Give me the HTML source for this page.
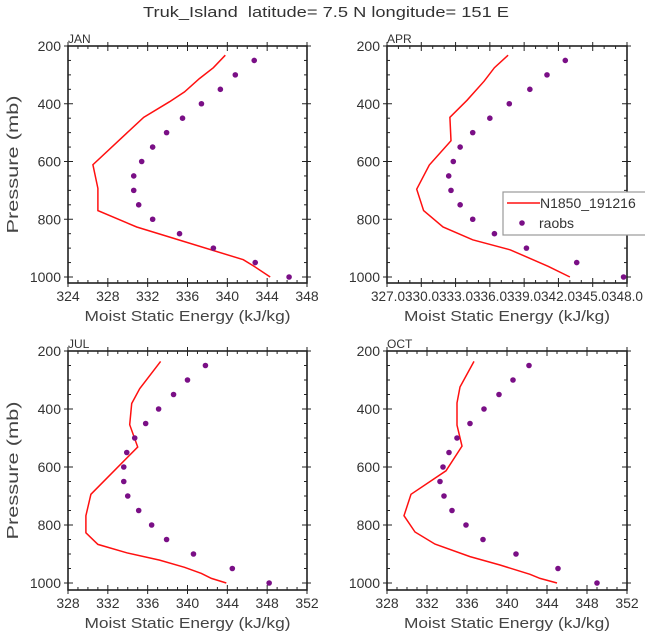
<!DOCTYPE html>
<html><head><meta charset="utf-8"><style>
html,body{margin:0;padding:0;background:#fff;}
svg{display:block;font-family:"Liberation Sans",sans-serif;}
</style></head><body>
<svg id="fig" width="645" height="640" viewBox="0 0 645 640" xmlns="http://www.w3.org/2000/svg">
<text x="326" y="17" font-size="15" text-anchor="middle" fill="#333" textLength="366" lengthAdjust="spacingAndGlyphs" xml:space="preserve">Truk_Island  latitude= 7.5 N longitude= 151 E</text>
</svg>
<script>
// ---- data ----
const obsLevels = [250,300,350,400,450,500,550,600,650,700,750,800,850,900,950,1000];
const janModelP = [232,275,313,359,393,447,611,693,770,827,865,940,961,1000];
const janModelV = [339.8,338.6,337.2,335.7,334.2,331.6,326.5,327.0,327.0,330.9,334.5,341.6,342.6,344.3];
const janObs = [342.7,340.8,339.3,337.4,335.5,333.9,332.5,331.4,330.6,330.6,331.1,332.5,335.2,338.6,342.8,346.2];
const aprModelP = [232,275,322,388,447,528,612,696,770,827,871,906,963,1000];
const aprModelV = [337.6,336.4,335.5,334.0,332.5,332.6,330.7,329.6,330.2,331.9,334.5,337.8,341.1,343.0];
const aprObs = [342.6,341.0,339.5,337.7,336.0,334.5,333.4,332.8,332.4,332.6,333.4,334.5,336.4,339.2,343.6,347.7];
const julModelP = [236,330,381,454,531,694,768,827,867,896,921,946,967,984,1000];
const julModelV = [337.3,335.2,334.4,334.2,335.0,330.3,329.8,329.8,331.0,333.9,337.2,339.7,341.4,342.4,343.9];
const julObs = [341.8,340.0,338.6,337.1,335.8,334.7,333.9,333.6,333.6,334.0,335.1,336.4,337.9,340.6,344.5,348.2];
const octModelP = [236,324,379,456,528,613,694,768,824,866,909,938,970,984,1000];
const octModelV = [336.7,335.3,335.0,335.0,335.5,333.9,330.4,329.7,330.8,332.8,336.3,339.3,342.3,343.3,345.0];
const octObs = [342.2,340.6,339.2,337.7,336.3,335.0,334.2,333.6,333.3,333.7,334.5,335.9,337.6,340.9,345.1,349.0];
const yTicks = [200,400,600,800,1000];
const janXTicks = [324,328,332,336,340,344,348];
const aprXTicks = [327,330,333,336,339,342,345,348];
const jxTicks = [328,332,336,340,344,348,352];

const NS="http://www.w3.org/2000/svg";
const svg=document.getElementById('fig');
function mk(tag,attrs,parent){const e=document.createElementNS(NS,tag);for(const k in attrs)e.setAttribute(k,attrs[k]);(parent||svg).appendChild(e);return e;}

function panel(cfg){
  const g=mk('g',{});
  
  
  const L=cfg.L,R=cfg.R,T=cfg.T,y1000=cfg.y1000,B=cfg.B;
  const xS=v=>L+(v-cfg.xmin)/(cfg.xmax-cfg.xmin)*(R-L);
  const yS=p=>T+(p-200)/800*(y1000-T);
  const tk=mk('g',{stroke:'#222','stroke-width':1},g);
  
  
  for(let p=200;p<=1000;p+=50){
    const y=yS(p), maj=(p%200===0);
    const a=maj?5:3;
    mk('line',{x1:L-(maj?4:0),x2:L+a,y1:y,y2:y},tk);
    mk('line',{x1:R-a,x2:R+(maj?4:0),y1:y,y2:y},tk);
  }
  for(let v=cfg.xmin;v<=cfg.xmax+0.001;v+=1){
    const x=xS(v), maj=((v-cfg.xmin)%cfg.xstep===0);
    const a=maj?5:3;
    mk('line',{x1:x,x2:x,y1:B+(maj?4:0),y2:B-a},tk);
    mk('line',{x1:x,x2:x,y1:T-(maj?4:0),y2:T+a},tk);
  }
  const fr=mk('rect',{x:L,y:T,width:R-L,height:B-T,fill:'none',stroke:'#222','stroke-width':1.6},g);
  
  
  yTicks.forEach(p=>{
    const t=mk('text',{x:L-7,y:yS(p)+5,'font-size':14,'text-anchor':'end',fill:'#333'},g);
    t.textContent=p;
    
    
  });
  if(cfg.apr){
    const t=mk('text',{x:xS(cfg.xTicks[0])-16,y:B+18,'font-size':14,fill:'#333',textLength:272,lengthAdjust:'spacingAndGlyphs'},g);
    t.textContent='327.0330.0333.0336.0339.0342.0345.0348.0';
    
    
  } else {
    cfg.xTicks.forEach(v=>{
      const t=mk('text',{x:xS(v),y:B+18,'font-size':14,'text-anchor':'middle',fill:'#333'},g);
      t.textContent=v;
      
      
    });
  }
  const xt=mk('text',{x:(L+R)/2,y:B+38,'font-size':15,'text-anchor':'middle',fill:'#444',textLength:206,lengthAdjust:'spacingAndGlyphs'},g);
  xt.textContent='Moist Static Energy (kJ/kg)';
  
  
  if(cfg.ytitle){
    const cy=(T+B)/2;
    const yt=mk('text',{x:18,y:cy,'font-size':16,'text-anchor':'middle',fill:'#444',transform:`rotate(-90 18 ${cy})`,textLength:138,lengthAdjust:'spacingAndGlyphs'},g);
    yt.textContent='Pressure (mb)';
    
    
  }
  const lab=mk('text',{x:L,y:T-3,'font-size':12,fill:'#333'},g);
  lab.textContent=cfg.label;
  
  
  const pts=cfg.mp.map((p,i)=>xS(cfg.mv[i]).toFixed(1)+','+yS(p).toFixed(1)).join(' ');
  const pl=mk('polyline',{points:pts,fill:'none',stroke:'#ff1010','stroke-width':1.5},g);
  
  
  obsLevels.forEach((p,i)=>{
    const c=mk('circle',{cx:xS(cfg.obs[i]),cy:yS(p),r:2.8,fill:'#7a0f86'},g);
    
    
  });
}
panel({name:'jan',label:'JAN',L:68,R:307,T:46,y1000:277,B:283,xmin:324,xmax:348,xstep:4,xTicks:janXTicks,mp:janModelP,mv:janModelV,obs:janObs,ytitle:true});
panel({name:'apr',label:'APR',L:387,R:627,T:46,y1000:277,B:283,xmin:327,xmax:348,xstep:3,xTicks:aprXTicks,mp:aprModelP,mv:aprModelV,obs:aprObs,apr:true});
panel({name:'jul',label:'JUL',L:68,R:307,T:351,y1000:583,B:590,xmin:328,xmax:352,xstep:4,xTicks:jxTicks,mp:julModelP,mv:julModelV,obs:julObs,ytitle:true});
panel({name:'oct',label:'OCT',L:387,R:627,T:351,y1000:583,B:590,xmin:328,xmax:352,xstep:4,xTicks:jxTicks,mp:octModelP,mv:octModelV,obs:octObs});

const lg=mk('g',{});


mk('rect',{x:503,y:192,width:160,height:43,fill:'#fff',stroke:'#999','stroke-width':1.2},lg);
mk('line',{x1:507,x2:540,y1:203,y2:203,stroke:'#ff1010','stroke-width':1.5},lg);
const l1=mk('text',{x:540,y:208,'font-size':14,fill:'#333'},lg);
l1.textContent='N1850_191216';


mk('circle',{cx:522,cy:223,r:2.8,fill:'#7a0f86'},lg);
const l2=mk('text',{x:539,y:228,'font-size':14,fill:'#333'},lg);
l2.textContent='raobs';


</script>
</body></html>
